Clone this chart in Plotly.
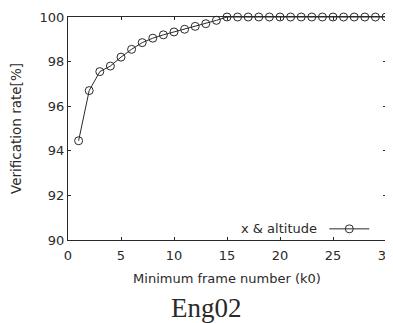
import plotly.graph_objects as go

k0 = list(range(1, 31))
rate = [94.45, 96.7, 97.55, 97.8, 98.2, 98.55, 98.85, 99.05, 99.2, 99.33,
        99.45, 99.58, 99.7, 99.85, 100, 100, 100, 100, 100, 100,
        100, 100, 100, 100, 100, 100, 100, 100, 100, 100]
series_name = "x & altitude"
x_ticks = [0, 5, 10, 15, 20, 25, 30]
y_ticks = [90, 92, 94, 96, 98, 100]

ink = "#2a2a2a"
sans = "DejaVu Sans, Arial"
fig = go.Figure()
fig.add_trace(go.Scatter(
    x=k0, y=rate, mode="lines+markers", name=" ",
    line=dict(color=ink, width=1),
    marker=dict(symbol="circle-open", size=8, color=ink, line=dict(width=1)),
    showlegend=True, cliponaxis=False,
))

axis_common = dict(
    showline=True, linecolor=ink, linewidth=1, mirror="ticks",
    ticks="inside", ticklen=3, tickcolor=ink, showgrid=False, zeroline=False,
    tickfont=dict(family=sans, size=13, color=ink), ticklabeloverflow="allow",
    automargin=False,
)
fig.update_xaxes(range=[0, 30], tickvals=x_ticks, **axis_common,
                 ticklabelstandoff=3,
                 title=dict(text="Minimum frame number (k0)", standoff=12,
                            font=dict(family=sans, size=13, color=ink)))
fig.update_yaxes(range=[90, 100], tickvals=y_ticks, **axis_common,
                 title=dict(text="Verification rate[%]", standoff=15,
                            font=dict(family=sans, size=13.5, color=ink)))

fig.add_annotation(text=series_name, xref="paper", yref="paper", x=0.79, y=0.05,
                   xanchor="right", yanchor="middle", showarrow=False,
                   font=dict(family=sans, size=13, color=ink))
fig.add_annotation(text="Eng02", xref="paper", yref="paper", x=0.434, y=-0.23,
                   xanchor="center", yanchor="top", showarrow=False,
                   font=dict(family="Liberation Serif, Times New Roman", size=27, color=ink))

fig.update_layout(
    width=385, height=315,
    margin=dict(l=60, r=7, t=9, b=83),
    paper_bgcolor="white", plot_bgcolor="white",
    legend=dict(x=0.806, y=0.05, xanchor="left", yanchor="middle",
                bgcolor="rgba(0,0,0,0)", borderwidth=0,
                font=dict(size=12), itemwidth=40),
)
fig.write_html("out.html")
